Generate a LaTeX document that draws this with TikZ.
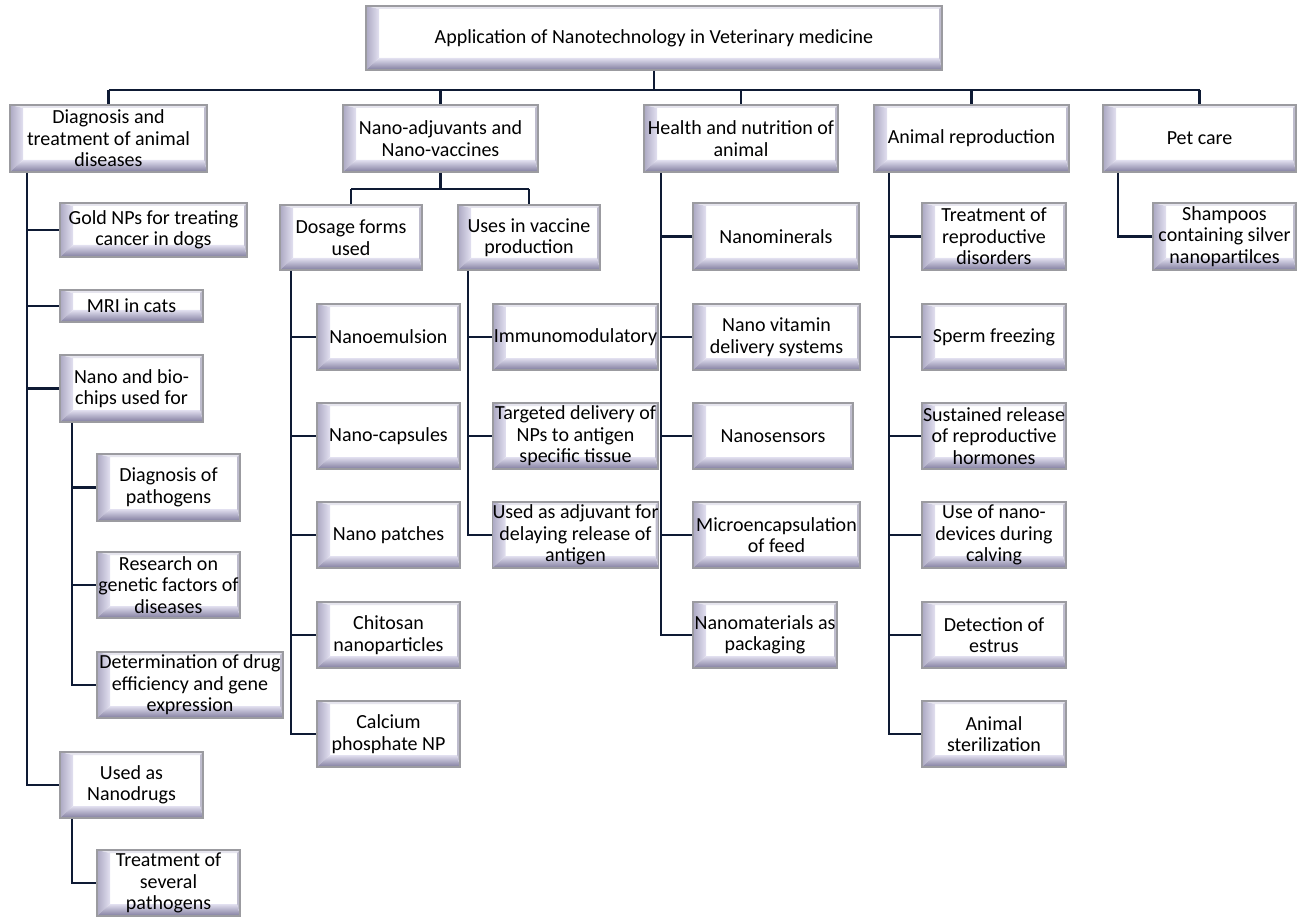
\documentclass[tikz,border=0pt]{standalone}
\usepackage{fontspec}
\setmainfont{Carlito}
\usetikzlibrary{calc}
\definecolor{bevdark}{RGB}{128,124,158}
\definecolor{bevlight}{RGB}{226,224,240}
\definecolor{bevtop}{RGB}{230,229,238}
\definecolor{bevright}{RGB}{190,188,205}
\definecolor{edgegray}{RGB}{155,155,160}
\definecolor{connblue}{RGB}{14,26,52}
\tikzset{
  bevbox/.style={draw=edgegray, line width=1.6pt, fill=white, inner sep=0pt, align=center,
    font=\fontsize{20}{21.5}\selectfont,
    path picture={
      \path (path picture bounding box.south west) coordinate (ppsw)
            (path picture bounding box.north east) coordinate (ppne);
      \path (ppsw |- ppne) coordinate (ppnw) (ppsw -| ppne) coordinate (ppse);
      \fill[bevtop] (ppnw) -- (ppne) -- ($(ppne)+(-3pt,-3pt)$) -- ($(ppnw)+(13pt,-3pt)$) -- cycle;
      \fill[bevright] (ppne) -- (ppse) -- ($(ppse)+(-3pt,12pt)$) -- ($(ppne)+(-3pt,-3pt)$) -- cycle;
      \shade[left color=bevdark!55!bevlight, middle color=bevdark, right color=bevlight] (ppsw) -- (ppnw) -- ($(ppnw)+(13pt,-3pt)$) -- ($(ppsw)+(13pt,12pt)$) -- cycle;
      \shade[top color=bevlight, bottom color=bevdark] (ppsw) -- (ppse) -- ($(ppse)+(-3pt,12pt)$) -- ($(ppsw)+(13pt,12pt)$) -- cycle;
    }},
  conn/.style={draw=connblue, line width=2.4pt}
}
\newcommand{\mybox}[6]{%
  \pgfmathsetmacro{\bw}{#4-#2}\pgfmathsetmacro{\bh}{#5-#3}%
  \pgfmathsetmacro{\bcx}{(#2+#4)/2}\pgfmathsetmacro{\bcy}{(#3+#5)/2}%
  \node[bevbox, minimum width=\bw pt, minimum height=\bh pt] (#1) at (\bcx,\bcy) {#6};}
\begin{document}
\begin{tikzpicture}[x=1pt,y=-1pt]
\fill[white] (0,0) rectangle (1301,917);
\useasboundingbox (0,0) rectangle (1301,917);
% top
\mybox{T}{366}{6}{942}{70}{Application of Nanotechnology in Veterinary medicine}
% level 1
\mybox{D}{10}{105}{207}{172}{Diagnosis and\\treatment of animal\\diseases}
\mybox{N}{343}{105}{538}{172}{Nano-adjuvants and\\Nano-vaccines}
\mybox{H}{644}{105}{838}{172}{Health and nutrition of\\animal}
\mybox{A}{874}{105}{1069}{172}{Animal reproduction}
\mybox{P}{1103}{105}{1296}{172}{Pet care}
% diagnosis subtree
\mybox{Gold}{60}{203}{247}{257}{Gold NPs for treating\\cancer in dogs}
\mybox{MRI}{60}{290}{203}{322}{MRI in cats}
\mybox{Chips}{60}{355}{203}{422}{Nano and bio-\\chips used for}
\mybox{DiagP}{97}{454}{240}{521}{Diagnosis of\\pathogens}
\mybox{Res}{97}{552}{240}{618}{Research on\\genetic factors of\\diseases}
\mybox{Det}{97}{652}{283}{718}{Determination of drug\\efficiency and gene\\expression}
\mybox{NDr}{60}{752}{203}{818}{Used as\\Nanodrugs}
\mybox{Trt}{97}{850}{240}{916}{Treatment of\\several\\pathogens}
% nano-adjuvants subtree
\mybox{Do}{280}{205}{422}{270}{Dosage forms\\used}
\mybox{U}{458}{205}{600}{270}{Uses in vaccine\\production}
\mybox{Emu}{317}{304}{460}{370}{Nanoemulsion}
\mybox{Cap}{317}{403}{460}{469}{Nano-capsules}
\mybox{Pat}{317}{502}{460}{568}{Nano patches}
\mybox{Chi}{317}{602}{460}{668}{Chitosan\\nanoparticles}
\mybox{Cal}{317}{701}{460}{767}{Calcium\\phosphate NP}
\mybox{Imm}{493}{304}{658}{370}{Immunomodulatory}
\mybox{Tar}{493}{403}{658}{469}{Targeted delivery of\\NPs to antigen\\specific tissue}
\mybox{Adj}{493}{502}{658}{568}{Used as adjuvant for\\delaying release of\\antigen}
% health subtree
\mybox{Min}{693}{203}{859}{270}{Nanominerals}
\mybox{Vit}{693}{304}{860}{370}{Nano vitamin\\delivery systems}
\mybox{Sen}{693}{403}{853}{469}{Nanosensors}
\mybox{Mic}{693}{502}{860}{568}{Microencapsulation\\of feed}
\mybox{Pack}{693}{602}{837}{668}{Nanomaterials as\\packaging}
% reproduction subtree
\mybox{Rep}{922}{203}{1066}{270}{Treatment of\\reproductive\\disorders}
\mybox{Spe}{922}{304}{1066}{370}{Sperm freezing}
\mybox{Sus}{922}{403}{1066}{469}{Sustained release\\of reproductive\\hormones}
\mybox{Dev}{922}{502}{1066}{568}{Use of nano-\\devices during\\calving}
\mybox{Est}{922}{602}{1066}{668}{Detection of\\estrus}
\mybox{Ste}{922}{701}{1066}{767}{Animal\\sterilization}
% pet subtree
\mybox{Sha}{1153}{203}{1296}{270}{Shampoos\\containing silver\\nanopartilces}
% ---- connectors
\coordinate (bus) at (0,90);
\draw[conn] (T.south) -- (T.south |- bus);
\draw[conn] (D.north |- bus) -- (P.north |- bus);
\foreach \n in {D,N,H,A,P} \draw[conn] (\n.north |- bus) -- (\n.north);
% diagnosis
\coordinate (dsp) at ($(D.south west)+(18pt,0)$);
\draw[conn] (dsp) |- (NDr.west);
\foreach \n in {Gold,MRI,Chips} \draw[conn] (dsp |- \n.west) -- (\n.west);
\coordinate (csp) at ($(Chips.south west)+(13pt,0)$);
\draw[conn] (csp) |- (Det.west);
\foreach \n in {DiagP,Res} \draw[conn] (csp |- \n.west) -- (\n.west);
\coordinate (rsp) at ($(NDr.south west)+(13pt,0)$);
\draw[conn] (rsp) |- (Trt.west);
% nano-adjuvants
\coordinate (nbus) at (0,189);
\draw[conn] (N.south) -- (N.south |- nbus);
\draw[conn] (Do.north |- nbus) -- (U.north |- nbus);
\foreach \n in {Do,U} \draw[conn] (\n.north |- nbus) -- (\n.north);
\coordinate (dosp) at ($(Do.south west)+(12pt,0)$);
\draw[conn] (dosp) |- (Cal.west);
\foreach \n in {Emu,Cap,Pat,Chi} \draw[conn] (dosp |- \n.west) -- (\n.west);
\coordinate (usp) at ($(U.south west)+(11pt,0)$);
\draw[conn] (usp) |- (Adj.west);
\foreach \n in {Imm,Tar} \draw[conn] (usp |- \n.west) -- (\n.west);
% health
\coordinate (hsp) at ($(H.south west)+(18pt,0)$);
\draw[conn] (hsp) |- (Pack.west);
\foreach \n in {Min,Vit,Sen,Mic} \draw[conn] (hsp |- \n.west) -- (\n.west);
% reproduction
\coordinate (asp) at ($(A.south west)+(16pt,0)$);
\draw[conn] (asp) |- (Ste.west);
\foreach \n in {Rep,Spe,Sus,Dev,Est} \draw[conn] (asp |- \n.west) -- (\n.west);
% pet
\coordinate (psp) at ($(P.south west)+(16pt,0)$);
\draw[conn] (psp) |- (Sha.west);
\end{tikzpicture}
\end{document}
